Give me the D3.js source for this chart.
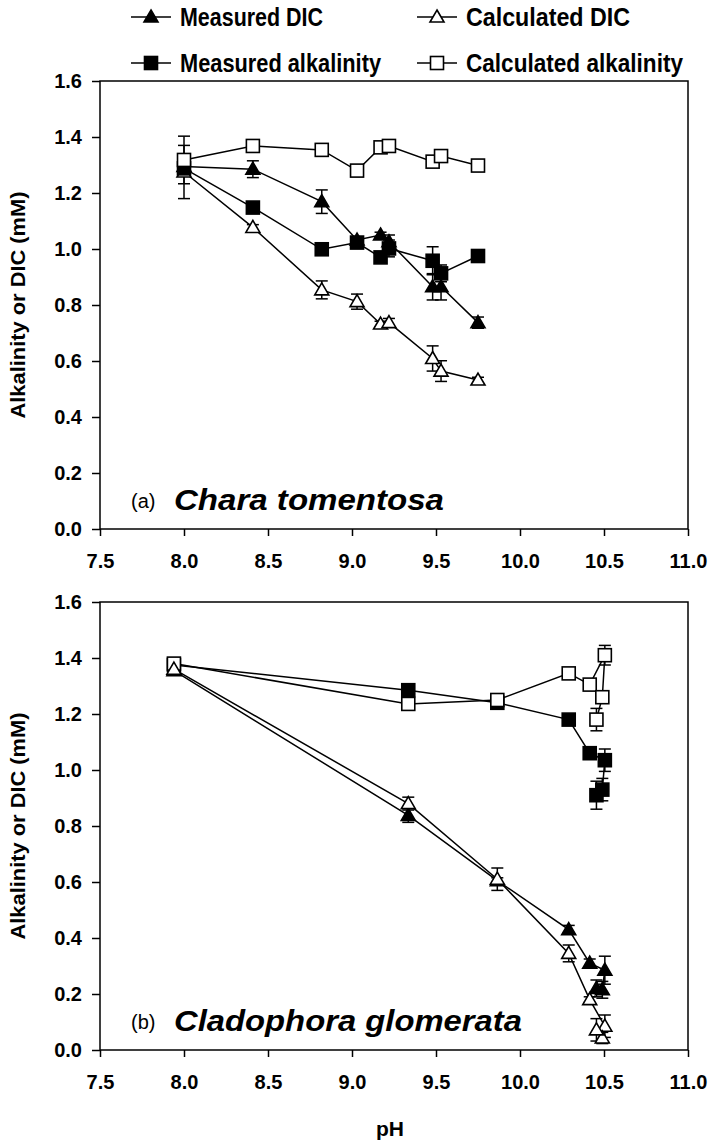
<!DOCTYPE html>
<html><head><meta charset="utf-8">
<script src="https://cdn.jsdelivr.net/npm/d3@7"></script>
<style>
html,body{margin:0;padding:0;background:#fff;}
svg text{font-family:"Liberation Sans",Arial,sans-serif;}
</style></head>
<body>
<svg id="chart" width="715" height="1140"></svg>
<script>
// ---------- DATA ----------
const xTicks = [7.5, 8.0, 8.5, 9.0, 9.5, 10.0, 10.5, 11.0];
const yTicks = [0.0, 0.2, 0.4, 0.6, 0.8, 1.0, 1.2, 1.4, 1.6];

// Panel (a) Chara tomentosa
const pHa       = [8.00, 8.41, 8.82, 9.03, 9.17, 9.22, 9.48, 9.53, 9.75];
const measDICa  = [1.295, 1.285, 1.169, 1.032, 1.050, 1.026, 0.865, 0.865, 0.737];
const calcDICa  = [1.275, 1.077, 0.854, 0.812, 0.732, 0.737, 0.609, 0.564, 0.532];
const measAlkA  = [1.288, 1.148, 0.999, 1.023, 0.970, 1.002, 0.958, 0.913, 0.975];
const calcAlkA  = [1.318, 1.368, 1.354, 1.280, 1.363, 1.368, 1.312, 1.332, 1.298];
const measDICaErr = [0.010, 0.030, 0.042, 0.010, 0.010, 0.024, 0.047, 0.047, 0.020];
const calcDICaErr = [0.095, 0.010, 0.032, 0.027, 0.010, 0.015, 0.045, 0.037, 0.010];
const measAlkAErr = [0.010, 0.010, 0.010, 0.010, 0.010, 0.030, 0.050, 0.030, 0.010];
const calcAlkAErr = [0.085, 0.010, 0.010, 0.010, 0.010, 0.010, 0.015, 0.015, 0.010];

// Panel (b) Cladophora glomerata (in sampling order)
const pHb       = [7.94, 9.335, 9.865, 10.29, 10.415, 10.505, 10.49, 10.455];
const measDICb  = [1.355, 0.838, 0.605, 0.430, 0.310, 0.285, 0.215, 0.220];
const calcDICb  = [1.360, 0.880, 0.610, 0.345, 0.180, 0.085, 0.043, 0.072];
const measAlkB  = [1.375, 1.285, 1.240, 1.180, 1.060, 1.035, 0.930, 0.910];
const calcAlkB  = [1.380, 1.236, 1.250, 1.345, 1.305, 1.410, 1.260, 1.180];
const measDICbErr = [0.010, 0.025, 0.010, 0.015, 0.015, 0.050, 0.030, 0.030];
const calcDICbErr = [0.010, 0.023, 0.040, 0.030, 0.010, 0.040, 0.020, 0.040];
const measAlkBErr = [0.010, 0.010, 0.010, 0.010, 0.010, 0.040, 0.040, 0.050];
const calcAlkBErr = [0.010, 0.010, 0.010, 0.010, 0.010, 0.035, 0.020, 0.040];

const seriesNames = ["Measured DIC", "Calculated DIC", "Measured alkalinity", "Calculated alkalinity"];
const seriesShape = ["tri", "tri", "sq", "sq"];
const seriesFill  = ["#000", "#fff", "#000", "#fff"];

// ---------- DRAW ----------
const svg = d3.select("#chart");
const FONT = '"Liberation Sans", Arial, sans-serif';
const x = d3.scaleLinear().domain([7.5, 11]).range([100, 688]);

function marker(g, shape, fill, cx, cy) {
  if (shape === "tri") {
    g.append("path")
      .attr("d", `M${cx},${cy-7}L${cx+7},${cy+5}L${cx-7},${cy+5}Z`)
      .attr("fill", fill).attr("stroke", "#000").attr("stroke-width", 1.6);
  } else {
    g.append("rect").attr("x", cx-6.5).attr("y", cy-6.5).attr("width", 13).attr("height", 13)
      .attr("fill", fill).attr("stroke", "#000").attr("stroke-width", 1.6);
  }
}

function panel(top, bottom, pH, series, errs, label, title, titleLen, drawOrder) {
  const y = d3.scaleLinear().domain([0, 1.6]).range([bottom, top]);
  const g = svg.append("g");

  // axes
  const ya = g.append("g").attr("transform", `translate(${x(7.5)},0)`)
    .call(d3.axisLeft(y).tickValues(yTicks).tickFormat(d3.format(".1f")).tickSize(8).tickPadding(10).tickSizeOuter(0));
  const xa = g.append("g").attr("transform", `translate(0,${bottom})`)
    .call(d3.axisBottom(x).tickValues(xTicks).tickFormat(d3.format(".1f")).tickSize(7).tickPadding(18).tickSizeOuter(0));
  [ya, xa].forEach(a => {
    a.selectAll("text").attr("font-size", 20).attr("font-weight", "bold").attr("font-family", FONT).attr("fill", "#000");
    a.selectAll("line").attr("stroke", "#000").attr("stroke-width", 1.5);
    a.select(".domain").remove();
  });
  g.append("rect").attr("x", x(7.5)).attr("y", y(1.6)).attr("width", x(11) - x(7.5)).attr("height", y(0) - y(1.6))
    .attr("fill", "none").attr("stroke", "#000").attr("stroke-width", 1.5);

  // y-axis title
  g.append("text").attr("transform", `translate(25,${(top + bottom) / 2}) rotate(-90)`)
    .attr("text-anchor", "middle").attr("font-size", 21).attr("font-weight", "bold")
    .attr("textLength", 227).attr("lengthAdjust", "spacingAndGlyphs")
    .text("Alkalinity or DIC (mM)");

  // lines
  const line = d3.line().x((d, i) => x(pH[i])).y(d => y(d));
  series.forEach(s => {
    g.append("path").attr("d", line(s)).attr("fill", "none").attr("stroke", "#000").attr("stroke-width", 1.5);
  });
  // error bars
  series.forEach((s, k) => {
    s.forEach((v, i) => {
      const e = errs[k][i];
      if (!e) return;
      const cx = x(pH[i]), y1 = y(v - e), y2 = y(v + e);
      g.append("line").attr("x1", cx).attr("x2", cx).attr("y1", y1).attr("y2", y2).attr("stroke", "#000").attr("stroke-width", 1.5);
      [y1, y2].forEach(yy => g.append("line").attr("x1", cx - 6).attr("x2", cx + 6).attr("y1", yy).attr("y2", yy)
        .attr("stroke", "#000").attr("stroke-width", 1.5));
    });
  });
  // markers
  drawOrder.forEach(k => {
    series[k].forEach((v, i) => marker(g, seriesShape[k], seriesFill[k], x(pH[i]), y(v)));
  });

  // panel labels
  g.append("text").attr("x", 131).attr("y", bottom - 21).attr("font-size", 20).text(label);
  g.append("text").attr("x", 174).attr("y", bottom - 19).attr("font-size", 30).attr("font-weight", "bold")
    .attr("font-style", "italic").attr("textLength", titleLen).attr("lengthAdjust", "spacingAndGlyphs").text(title);
}

panel(81, 529, pHa,
  [measDICa, calcDICa, measAlkA, calcAlkA],
  [measDICaErr, calcDICaErr, measAlkAErr, calcAlkAErr],
  "(a)", "Chara tomentosa", 270, [1, 2, 0, 3]);

panel(602, 1050, pHb,
  [measDICb, calcDICb, measAlkB, calcAlkB],
  [measDICbErr, calcDICbErr, measAlkBErr, calcAlkBErr],
  "(b)", "Cladophora glomerata", 348, [2, 3, 0, 1]);

// x-axis title
svg.append("text").attr("x", 390).attr("y", 1136).attr("text-anchor", "middle")
  .attr("font-size", 21).attr("font-weight", "bold").text("pH");

// legend
const legX = [151, 437];
const legY = [17, 63];
const legLen = [143, 164, 201, 217];
seriesNames.forEach((name, k) => {
  const col = k % 2, row = Math.floor(k / 2);
  const cx = legX[col], cy = legY[row];
  const lg = svg.append("g");
  lg.append("line").attr("x1", cx - 20).attr("x2", cx + 20).attr("y1", cy).attr("y2", cy)
    .attr("stroke", "#000").attr("stroke-width", 1.5);
  marker(lg, seriesShape[k], seriesFill[k], cx, cy);
  lg.append("text").attr("x", cx + 29).attr("y", cy + 9).attr("font-size", 25).attr("font-weight", "bold")
    .attr("textLength", legLen[k]).attr("lengthAdjust", "spacingAndGlyphs").text(name);
});
</script>
</body></html>
